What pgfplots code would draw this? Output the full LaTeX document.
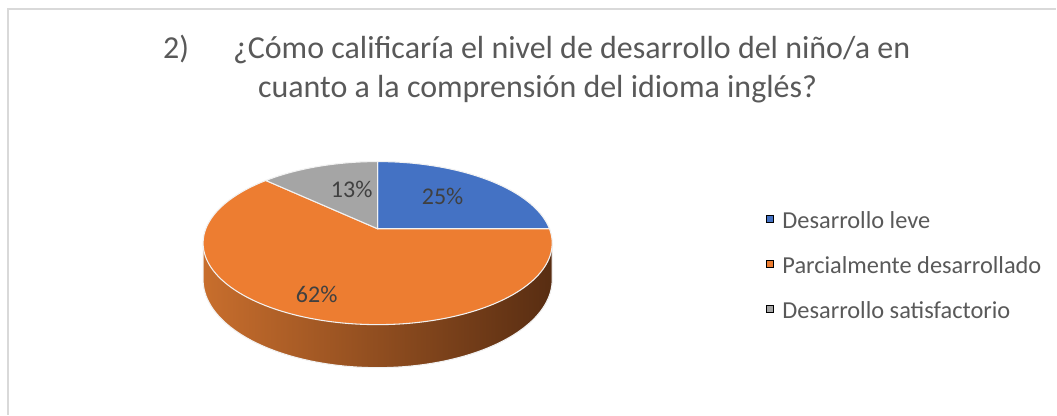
\documentclass[border=0pt]{standalone}
\usepackage{fontspec}
\setmainfont{Carlito}
\usepackage{pgfplots}
\usepackage{pgfplotstable}
\pgfplotsset{compat=1.18}
\definecolor{cBlue}{HTML}{4472C4}
\definecolor{cOrange}{HTML}{ED7D31}
\definecolor{cGray}{HTML}{A5A5A5}
\definecolor{sideL}{RGB}{200,110,45}
\definecolor{sideR}{RGB}{88,45,18}
\definecolor{titleC}{HTML}{595959}
\definecolor{lblC}{HTML}{404040}
\definecolor{frameC}{HTML}{D9D9D9}
\definecolor{edgeC}{HTML}{F2F2F2}

\pgfplotstableread{
cat pct
leve 25
parcial 62
satisf 13
}\piedata

\begin{document}%
\begin{tikzpicture}
\pgfplotstablegetelem{0}{pct}\of\piedata \let\pA\pgfplotsretval
\pgfplotstablegetelem{1}{pct}\of\piedata \let\pB\pgfplotsretval
\pgfplotstablegetelem{2}{pct}\of\piedata \let\pC\pgfplotsretval
\pgfmathsetmacro\aA{90}
\pgfmathsetmacro\aB{90-3.6*\pA}
\pgfmathsetmacro\aC{\aB-3.6*\pB}
\pgfmathsetmacro\aD{\aC-3.6*\pC}
% perspective pie geometry (pixels)
\def\cx{378}\def\cy{229}\def\R{172}\def\S{79.1}\def\kk{0.1757}\def\D{35.5}
\pgfmathsetmacro\tL{180+asin(\kk)}
\pgfmathsetmacro\tR{360-asin(\kk)}
\pgfmathsetmacro\xL{\cx+\R*cos(\tL)/(1+\kk*sin(\tL))}
\pgfmathsetmacro\yL{\cy-\S*sin(\tL)/(1+\kk*sin(\tL))}
\pgfmathsetmacro\xR{\cx+\R*cos(\tR)/(1+\kk*sin(\tR))}
\pgfmathsetmacro\yR{\cy-\S*sin(\tR)/(1+\kk*sin(\tR))}
\begin{axis}[
  x=0.75pt, y=0.75pt, y dir=reverse,
  xmin=0, xmax=1057, ymin=0, ymax=415,
  hide axis, clip=false,
  legend cell align=left,
  legend image code/.code={\fill[#1] (0.75pt,-0.6pt) rectangle (6pt,4.65pt);},
  legend style={at={(axis description cs:0.7256,0.4925)}, anchor=north west,
    draw=none, fill=none, inner sep=0pt, outer sep=0pt,
    font=\fontsize{18.3}{22}\selectfont, text=titleC,
    row sep=16.45pt, column sep=6.5pt,
    nodes={inner sep=0pt, text height=13.3pt, text depth=4pt}},
]
\fill[white] (axis cs:0,0) rectangle (axis cs:1057,415);
\draw[frameC, line width=1.5pt] (axis cs:8,415) -- (axis cs:8,9.5) -- (axis cs:1057,9.5);

% side of the pie
\addplot[forget plot, draw=edgeC, line width=0.8pt, left color=sideL, right color=sideR,
  domain=\tL:\tR, samples=80, variable=\t]
  ({\cx+\R*cos(\t)/(1+\kk*sin(\t))},{\cy-\S*sin(\t)/(1+\kk*sin(\t))+\D/(1+\kk*sin(\t))})
  -- (axis cs:\xR,\yR) -- (axis cs:\xL,\yL) -- cycle;

% top slices
\addplot[forget plot, fill=cBlue, draw=edgeC, line width=0.8pt, domain=\aB:\aA, samples=60, variable=\t]
  ({\cx+\R*cos(\t)/(1+\kk*sin(\t))},{\cy-\S*sin(\t)/(1+\kk*sin(\t))}) -- (axis cs:\cx,\cy) -- cycle;
\addplot[forget plot, fill=cOrange, draw=edgeC, line width=0.8pt, domain=\aC:\aB, samples=120, variable=\t]
  ({\cx+\R*cos(\t)/(1+\kk*sin(\t))},{\cy-\S*sin(\t)/(1+\kk*sin(\t))}) -- (axis cs:\cx,\cy) -- cycle;
\addplot[forget plot, fill=cGray, draw=edgeC, line width=0.8pt, domain=\aD:\aC, samples=40, variable=\t]
  ({\cx+\R*cos(\t)/(1+\kk*sin(\t))},{\cy-\S*sin(\t)/(1+\kk*sin(\t))}) -- (axis cs:\cx,\cy) -- cycle;

\addlegendimage{fill=cBlue}\addlegendentry{Desarrollo leve}
\addlegendimage{fill=cOrange}\addlegendentry{Parcialmente desarrollado}
\addlegendimage{fill=cGray}\addlegendentry{Desarrollo satisfactorio}

% data labels
\node[anchor=base, inner sep=0pt, text=lblC, font=\fontsize{18}{21}\selectfont] at (axis cs:443,205) {\pA\%};
\node[anchor=base, inner sep=0pt, text=lblC, font=\fontsize{18}{21}\selectfont] at (axis cs:317,302.7) {\pB\%};
\node[anchor=base, inner sep=0pt, text=lblC, font=\fontsize{18}{21}\selectfont] at (axis cs:352,198) {\pC\%};

% title
\node[anchor=base west, inner sep=0pt, text=titleC, font=\fontsize{24}{29}\selectfont] at (axis cs:163,59) {2)};
\node[anchor=base west, inner sep=0pt, text=titleC, font=\fontsize{24}{29}\selectfont] at (axis cs:233,59) {¿Cómo calificaría el nivel de desarrollo del niño/a en};
\node[anchor=base west, inner sep=0pt, text=titleC, font=\fontsize{24}{29}\selectfont] at (axis cs:258,98) {cuanto a la comprensión del idioma inglés?};
\end{axis}
\end{tikzpicture}%
\end{document}
